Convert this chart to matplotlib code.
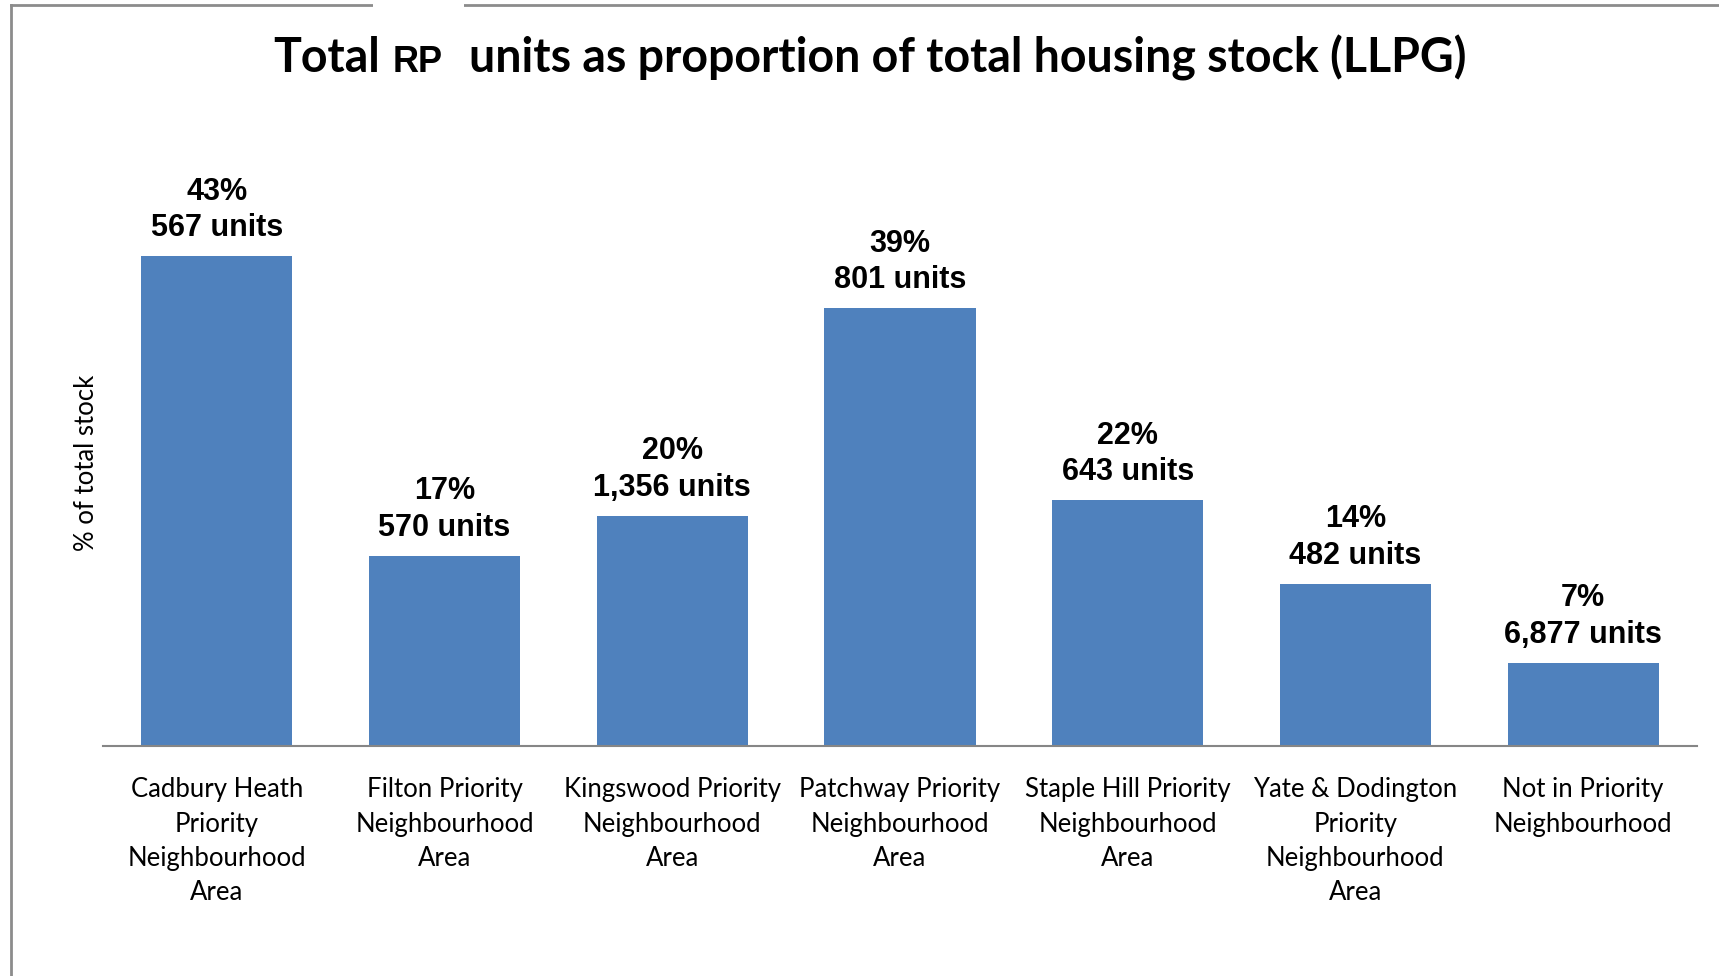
import matplotlib
matplotlib.use('Agg')
import matplotlib.pyplot as plt
from matplotlib.lines import Line2D
from matplotlib.patches import Rectangle

# data
areas = ['Cadbury Heath\nPriority\nNeighbourhood\nArea',
         'Filton Priority\nNeighbourhood\nArea',
         'Kingswood Priority\nNeighbourhood\nArea',
         'Patchway Priority\nNeighbourhood\nArea',
         'Staple Hill Priority\nNeighbourhood\nArea',
         'Yate & Dodington\nPriority\nNeighbourhood\nArea',
         'Not in Priority\nNeighbourhood']
pct = [43.3, 16.8, 20.3, 38.7, 21.7, 14.3, 7.3]
pct_labels = ['43%', '17%', '20%', '39%', '22%', '14%', '7%']
units = [567, 570, 1356, 801, 643, 482, 6877]

W, H = 1719, 976
fig = plt.figure(figsize=(W / 100, H / 100), dpi=100)
fig.patch.set_facecolor('white')

ax = fig.add_axes([103 / W, 1 - 745.5 / H, (1697 - 103) / W, (745.5 - 180.8) / H])
ax.bar(range(len(pct)), pct, width=0.664, color='#4F81BD')
ax.set_xlim(-0.5, len(pct) - 0.5)
ax.set_ylim(0, 50)

for i, v in enumerate(pct):
    ax.annotate('%s\n%s units' % (pct_labels[i], format(units[i], ',')),
                xy=(i, v), xytext=(0, 13), textcoords='offset pixels',
                ha='center', va='bottom', fontsize=22, fontweight='bold',
                family='Liberation Sans', linespacing=1.3)

for s in ['top', 'right', 'left']:
    ax.spines[s].set_visible(False)
ax.spines['bottom'].set_color('#868686')
ax.spines['bottom'].set_linewidth(1.5)
ax.set_yticks([])
ax.set_xticks(range(len(areas)))
ax.set_xticklabels(areas, family='Lato', fontsize=18.5, linespacing=1.46)
ax.tick_params(axis='x', length=0, pad=23)

fig.text(86 / W, 1 - 463 / H, '% of total stock', rotation=90, ha='center',
         va='center', family='Lato', fontsize=18.5)

# frame round the chart
fig.add_artist(Line2D([10.7 / W, 1], [1 - 5.4 / H, 1 - 5.4 / H], color='#8c8c8c', lw=2))
fig.add_artist(Line2D([10.7 / W, 10.7 / W], [0, 1 - 5.4 / H], color='#8c8c8c', lw=2))
fig.add_artist(Rectangle((373 / W, 1 - 93 / H), 91 / W, 93 / H,
                         transform=fig.transFigure, facecolor='white',
                         edgecolor='none', zorder=3))

# title in three pieces
ty = 1 - 72.5 / H
fig.text(273 / W, ty, 'Total', ha='left', va='baseline', family='Lato',
         fontweight='bold', fontsize=33.5, zorder=4)
fig.text(393 / W, ty, 'RP', ha='left', va='baseline', family='Liberation Sans',
         fontweight='bold', fontsize=26, zorder=4)
fig.text(469 / W, ty, 'units as proportion of total housing stock (LLPG)',
         ha='left', va='baseline', family='Lato', fontweight='bold',
         fontsize=33.5, zorder=4)

fig.savefig('out.png', dpi=100, facecolor='white')
